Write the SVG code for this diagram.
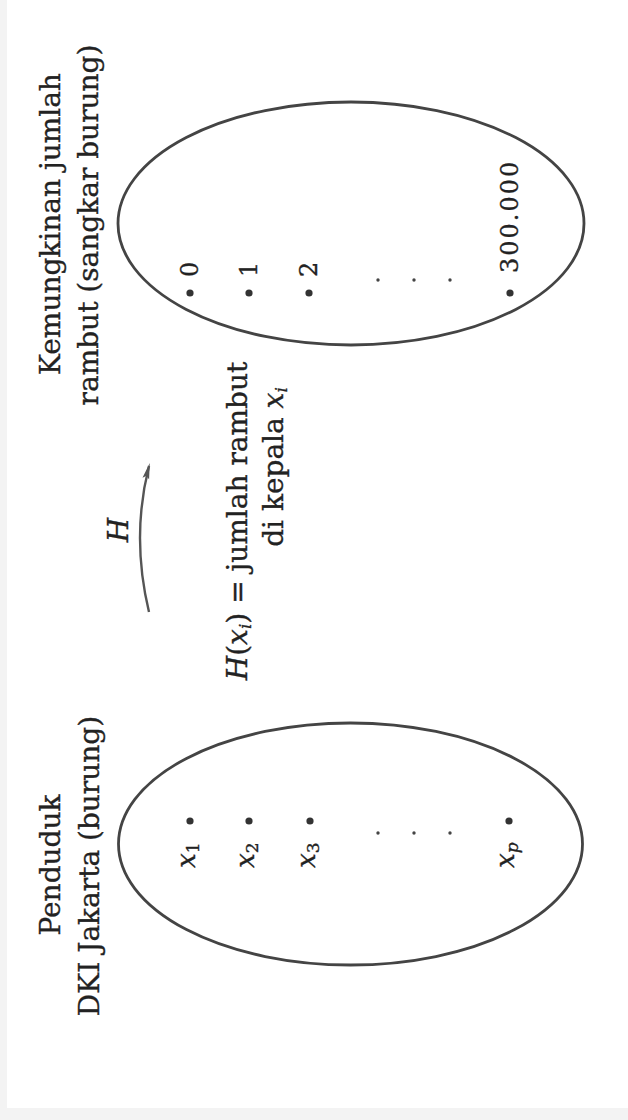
<svg xmlns="http://www.w3.org/2000/svg" width="628" height="1120" viewBox="0 0 628 1120">
<style>
text{stroke:#222;stroke-width:0.35px;}
.lbl{font-family:"DejaVu Serif","Liberation Serif",serif;font-size:28px;fill:#222;}
.num{font-family:"DejaVu Serif","Liberation Serif",serif;font-size:24px;fill:#222;}
.var{font-family:"DejaVu Serif","Liberation Serif",serif;font-size:26px;font-style:italic;fill:#222;}
.set{fill:none;stroke:#444;stroke-width:2.8;}
.dot{fill:#333;}
.sdot{fill:#444;}
.sub{font-size:17px;font-style:normal;}
.subi{font-size:17px;}
.conn{fill:none;stroke:#555;stroke-width:2.4;}
</style>
<defs>
<marker id="ah" markerWidth="18" markerHeight="10" refX="13" refY="4" orient="auto" markerUnits="userSpaceOnUse">
<path d="M0,0.6 L16,4 L0,7.4 L3,4 z" fill="#555"/>
</marker>
</defs>
<rect x="0" y="0" width="628" height="1120" fill="#f3f3f3"/>
<rect x="7" y="0" width="621" height="1108" fill="#ffffff"/>

<g id="codomain">
<text class="lbl" x="60" y="224" text-anchor="middle" transform="rotate(-90 60 224)">Kemungkinan jumlah</text>
<text class="lbl" x="98" y="225" text-anchor="middle" transform="rotate(-90 98 225)">rambut (sangkar burung)</text>
<ellipse class="set" cx="351" cy="223.5" rx="233" ry="121.5"/>
<circle class="dot" cx="190" cy="293" r="3.6"/>
<circle class="dot" cx="249" cy="293" r="3.6"/>
<circle class="dot" cx="309" cy="293" r="3.6"/>
<circle class="dot" cx="510" cy="293" r="3.6"/>
<circle class="sdot" cx="378" cy="280" r="1.7"/>
<circle class="sdot" cx="414" cy="280" r="1.7"/>
<circle class="sdot" cx="450" cy="280" r="1.7"/>
<text class="num" x="198" y="277" transform="rotate(-90 198 277)">0</text>
<text class="num" x="257" y="277" transform="rotate(-90 257 277)">1</text>
<text class="num" x="317" y="277" transform="rotate(-90 317 277)">2</text>
<text class="num" x="518" y="273" letter-spacing="2" transform="rotate(-90 518 273)">300.000</text>
</g>

<g id="domain">
<text class="lbl" x="60" y="865" text-anchor="middle" transform="rotate(-90 60 865)">Penduduk</text>
<text class="lbl" x="99" y="866" text-anchor="middle" transform="rotate(-90 99 866)">DKI Jakarta (burung)</text>
<ellipse class="set" cx="350.5" cy="844" rx="232" ry="121"/>
<circle class="dot" cx="190" cy="821" r="3.6"/>
<circle class="dot" cx="249" cy="821" r="3.6"/>
<circle class="dot" cx="310" cy="821" r="3.6"/>
<circle class="dot" cx="509" cy="821" r="3.6"/>
<circle class="sdot" cx="378" cy="833" r="1.7"/>
<circle class="sdot" cx="414" cy="833" r="1.7"/>
<circle class="sdot" cx="450" cy="833" r="1.7"/>
<text class="var" x="195" y="868" transform="rotate(-90 195 868)">x<tspan class="sub" dy="4">1</tspan></text>
<text class="var" x="254" y="868" transform="rotate(-90 254 868)">x<tspan class="sub" dy="4">2</tspan></text>
<text class="var" x="315" y="868" transform="rotate(-90 315 868)">x<tspan class="sub" dy="4">3</tspan></text>
<text class="var" x="514" y="868" transform="rotate(-90 514 868)">x<tspan class="subi" dy="4">p</tspan></text>
</g>

<g id="connectors">
<path class="conn" d="M149,612 Q131,537 149,466" marker-end="url(#ah)"/>
</g>

<g id="labels">
<text class="lbl" x="128" y="530" text-anchor="middle" font-style="italic" transform="rotate(-90 128 530)">H</text>
<text class="lbl" x="247" y="521" text-anchor="middle" transform="rotate(-90 247 521)"><tspan font-style="italic">H</tspan>(<tspan font-style="italic">x</tspan><tspan font-style="italic" font-size="17" dy="4">i</tspan><tspan dy="-4">) = jumlah rambut</tspan></text>
<text class="lbl" x="283" y="467" text-anchor="middle" transform="rotate(-90 283 467)">di kepala <tspan font-style="italic">x</tspan><tspan font-style="italic" font-size="17" dy="4">i</tspan></text>
</g>
</svg>
